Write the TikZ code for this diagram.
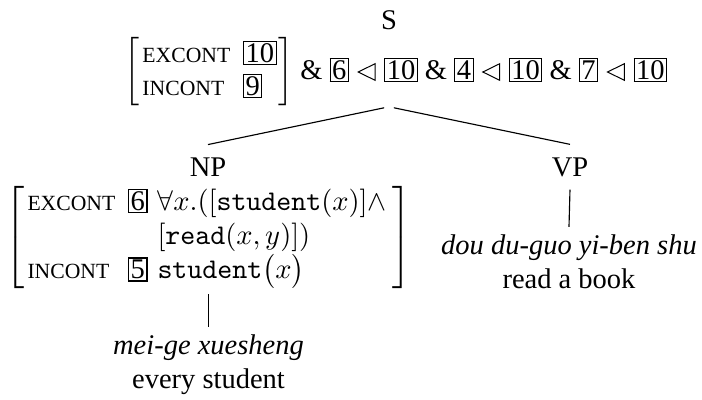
\documentclass[tikz,border=0pt]{standalone}
\usepackage[no-math]{fontspec}
\setmainfont{Liberation Serif}
\newcommand\avmsc[1]{{\fontsize{7.6}{9}\selectfont #1}}
\newcommand\tagbox[1]{{\setlength\fboxsep{0.5pt}\setlength\fboxrule{0.4pt}\fbox{#1}}}
\newcommand\ltri{\mathrel{\tikz[baseline=-2.5pt]\draw[line width=0.35pt, line join=miter] (5.9pt,2.9pt)--(0pt,0pt)--(5.9pt,-2.9pt)--cycle;}}
\newcommand\tagprec[2]{\tagbox{#1}\mkern0.5mu\ltri\mkern0.5mu\tagbox{#2}}
\tikzset{
  lab/.style={inner xsep=0pt, inner ysep=4.4pt},
  avm/.style={inner sep=0pt},
  leaf/.style={inner xsep=0pt, inner ysep=2.4pt, anchor=base},
  edge/.style={line width=0.4pt},
}
\begin{document}
\begin{tikzpicture}[x=0.3509pt,y=-0.3509pt]
\useasboundingbox (0,0) rectangle (702,400);
% root
\node[lab] (s) at (389,20) {S};
\node[avm, anchor=west] (savm) at (124,72) {$\left[\begin{tabular}{@{\hspace{1pt}}l@{\hspace{4.5pt}}l@{\hspace{0.5pt}}}\avmsc{EXCONT} & \tagbox{10}\\[-0.3pt] \avmsc{INCONT} & \tagbox{9}\end{tabular}\right]$ \& $\tagprec{6}{10}$ \& $\tagprec{4}{10}$ \& $\tagprec{7}{10}$};
% NP
\node[lab] (np) at (208,167) {NP};
\node[avm] (npavm) at (208.5,237.5) {$\left[\begin{tabular}{@{\hspace{1pt}}l@{\hspace{4.5pt}}l@{\hspace{3.5pt}}l@{\hspace{2pt}}}
\avmsc{EXCONT} & \tagbox{6} & $\forall x.([\texttt{student}(x)]\wedge$\\
 & & $[\texttt{read}(x,y)])$\\
\avmsc{INCONT} & \tagbox{5} & $\texttt{student}\bigl(x\bigr)$
\end{tabular}\right]$};
\node[leaf] (mei) at (208.5,354) {\textit{mei-ge xuesheng}};
\node[leaf] (every) at (208.5,388) {every student};
% VP
\node[lab] (vp) at (570,167) {VP};
\node[leaf] (dou) at (569,254) {\textit{dou du-guo yi-ben shu}};
\node[leaf] (read) at (569,288) {read a book};
% connectors
\draw[edge, shorten <=1.75pt] (s |- savm.south) -- (np.north);
\draw[edge, shorten <=1.75pt] (s |- savm.south) -- (vp.north);
\draw[edge, shorten <=1.75pt] (npavm.south) -- (mei.north);
\draw[edge] (vp.south) -- (dou.north);
\end{tikzpicture}
\end{document}
